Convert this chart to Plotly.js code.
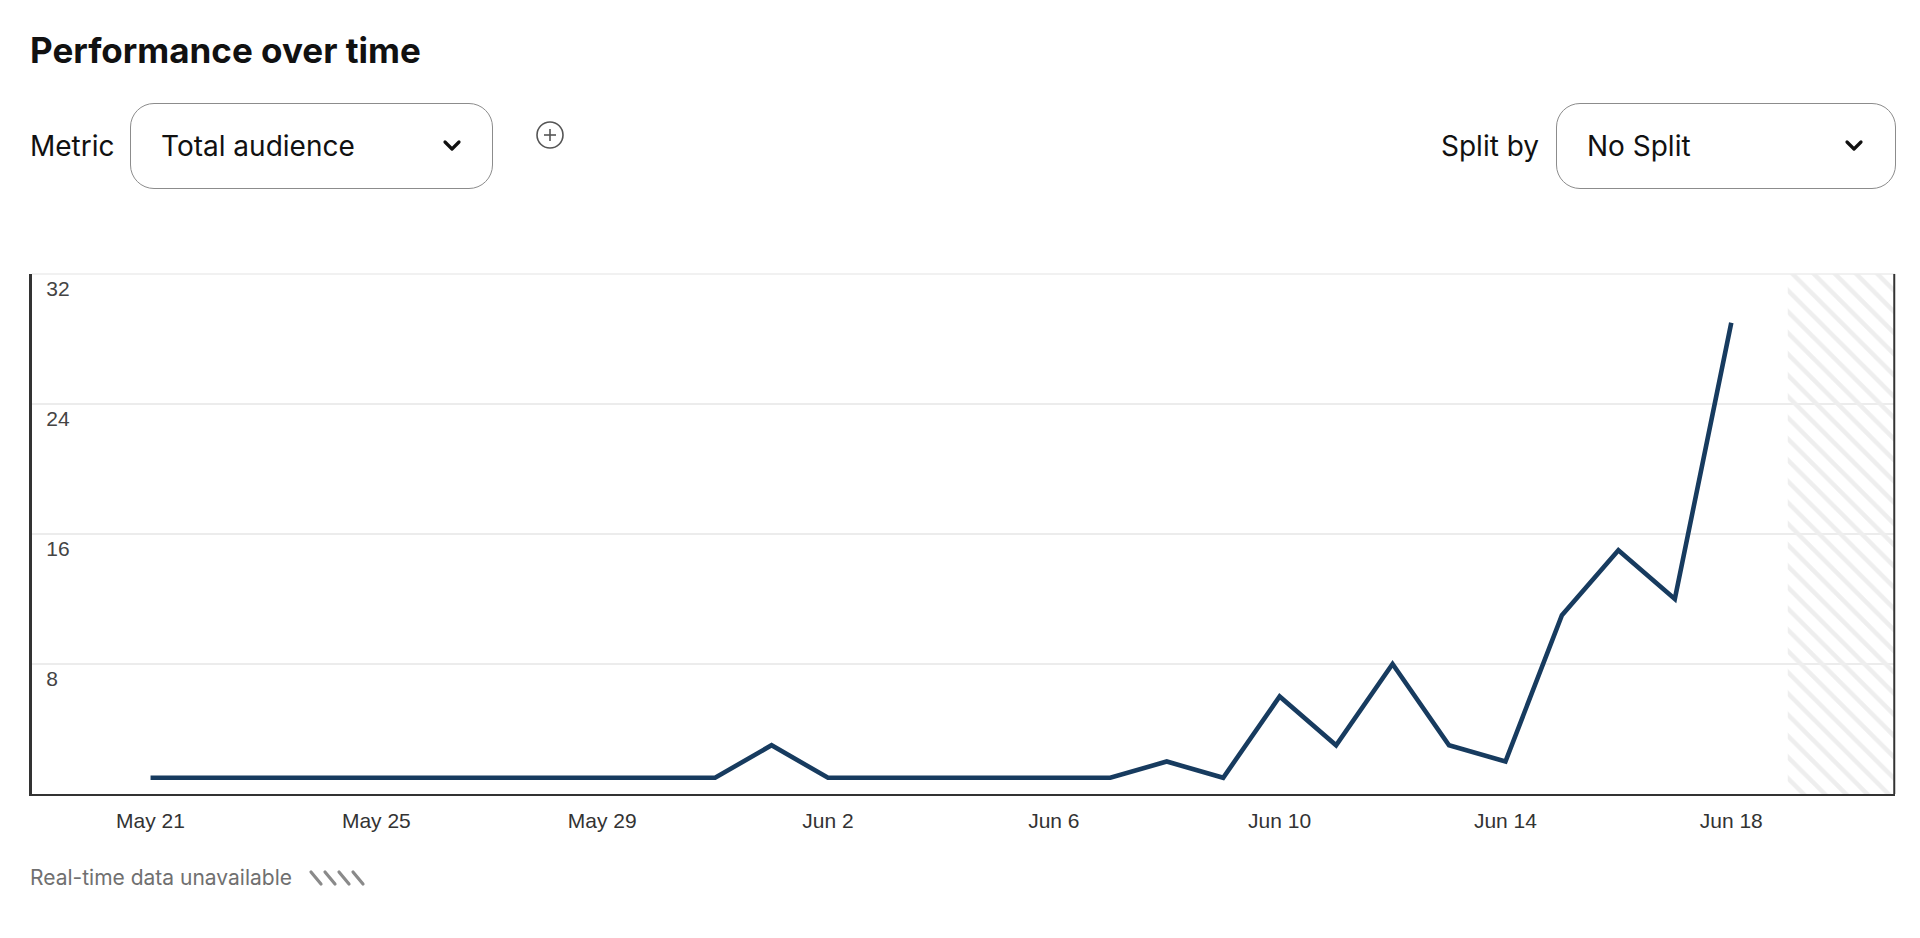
<!DOCTYPE html>
<html>
<head>
<meta charset="utf-8">
<script src="https://cdn.plot.ly/plotly-3.0.1.min.js"></script>
<style>
  body { margin: 0; background: #fff; font-family: Inter, "Noto Sans", sans-serif; color: #111; }
  #wrap { position: relative; width: 1920px; height: 938px; overflow: hidden; }
  #graph { position: absolute; left: 0; top: 0; width: 1920px; height: 938px; }
  .abs { position: absolute; white-space: nowrap; }
  .title { left: 30px; top: 29px; font-size: 35px; font-weight: 700; letter-spacing: 0px; }
  .label { font-size: 28px; line-height: 34px; top: 129px; color: #111; }
  .box { top: 103px; height: 84px; border: 1.6px solid #8c8c8c; border-radius: 24px; background: #fff; }
  .box span { position: absolute; left: 30px; top: 25px; font-size: 28px; line-height: 34px; }
  .box svg { position: absolute; top: 35px; }
  .foot { left: 30px; top: 865px; font-size: 21px; color: #707070; }
</style>
</head>
<body>
<div id="wrap">
  <div id="graph"></div>
  <div class="abs title">Performance over time</div>

  <div class="abs label" style="left:30px">Metric</div>
  <div class="abs box" style="left:130px; width:361px">
    <span>Total audience</span>
    <svg style="left:311px" width="20" height="14" viewBox="0 0 20 14"><polyline points="3,3 10,10 17,3" fill="none" stroke="#111" stroke-width="3.2" stroke-linecap="round" stroke-linejoin="round"/></svg>
  </div>
  <svg class="abs" style="left:535px; top:120px" width="30" height="30" viewBox="0 0 30 30">
    <circle cx="15" cy="15" r="13" fill="none" stroke="#555" stroke-width="1.6"/>
    <line x1="15" y1="9" x2="15" y2="21" stroke="#555" stroke-width="1.6"/>
    <line x1="9" y1="15" x2="21" y2="15" stroke="#555" stroke-width="1.6"/>
  </svg>

  <div class="abs label" style="left:1441px">Split by</div>
  <div class="abs box" style="left:1556px; width:338px">
    <span>No Split</span>
    <svg style="left:287px" width="20" height="14" viewBox="0 0 20 14"><polyline points="3,3 10,10 17,3" fill="none" stroke="#111" stroke-width="3.2" stroke-linecap="round" stroke-linejoin="round"/></svg>
  </div>

  <div class="abs foot">Real-time data unavailable
    <svg style="vertical-align:-2px; margin-left:10px" width="60" height="18" viewBox="0 0 60 18">
      <g stroke="#8a8a8a" stroke-width="3.2" stroke-linecap="round">
        <line x1="3" y1="3" x2="13" y2="15"/>
        <line x1="17" y1="3" x2="27" y2="15"/>
        <line x1="31" y1="3" x2="41" y2="15"/>
        <line x1="45" y1="3" x2="55" y2="15"/>
      </g>
    </svg>
  </div>
</div>

<script>
// daily total audience, May 21 - Jun 18
let days = [
    '2024-05-21', '2024-05-22', '2024-05-23', '2024-05-24', '2024-05-25',
    '2024-05-26', '2024-05-27', '2024-05-28', '2024-05-29', '2024-05-30',
    '2024-05-31', '2024-06-01', '2024-06-02', '2024-06-03', '2024-06-04',
    '2024-06-05', '2024-06-06', '2024-06-07', '2024-06-08', '2024-06-09',
    '2024-06-10', '2024-06-11', '2024-06-12', '2024-06-13', '2024-06-14',
    '2024-06-15', '2024-06-16', '2024-06-17', '2024-06-18'
]
let audience = [
    1, 1, 1, 1, 1,
    1, 1, 1, 1, 1,
    1, 3, 1, 1, 1,
    1, 1, 1, 2, 1,
    6, 3, 8, 3, 2,
    11, 15, 12, 29
]
let yTicks = [8, 16, 24, 32]
let xRange = ['2024-05-18 21:36', '2024-06-20 21:36']
let unavailableFrom = '2024-06-19'

main();

function main() {
    let yMax = yTicks[yTicks.length - 1]
    let hatchWidth = Date.parse('2024-06-20T21:36:00') - Date.parse(unavailableFrom + 'T00:00:00')

    // striped block for the days with no real-time data
    let hatch = {
        x: [unavailableFrom],
        y: [yMax],
        type: 'bar',
        offset: 0,
        width: [hatchWidth],
        marker: {
            color: 'rgba(0,0,0,0)',
            line: {width: 0},
            pattern: {shape: '\\', fgcolor: '#eeeeee', bgcolor: 'rgba(0,0,0,0)', size: 15, solidity: 0.3}
        },
        hoverinfo: 'skip',
        showlegend: false
    }

    let line = {
        x: days,
        y: audience,
        type: 'scatter',
        mode: 'lines',
        line: {color: '#173b5f', width: 4.6},
        showlegend: false
    }

    var layout = {
        width: 1920,
        height: 938,
        margin: {l: 32, r: 25, t: 274, b: 144},
        paper_bgcolor: 'rgba(0,0,0,0)',
        plot_bgcolor: '#ffffff',
        font: {family: 'Liberation Sans, Arial, sans-serif', size: 21, color: '#333'},
        xaxis: {
            type: 'date',
            range: xRange,
            tick0: days[0],
            dtick: 4 * 86400000,
            tickformat: '%b %-d',
            ticks: '',
            ticklabelstandoff: 7,
            showgrid: false,
            zeroline: false,
            showline: true,
            linecolor: '#333',
            linewidth: 2
        },
        yaxis: {
            range: [0, yMax],
            tickvals: yTicks,
            ticklabelposition: 'inside bottom',
            ticklabelstandoff: 14,
            ticks: '',
            showgrid: true,
            gridcolor: '#ececec',
            gridwidth: 1.5,
            zeroline: false,
            showline: true,
            linecolor: '#333',
            linewidth: 3
        },
        shapes: [
            {
                type: 'line', xref: 'paper', yref: 'paper',
                x0: 0, x1: 1, y0: 1, y1: 1,
                line: {color: '#ececec', width: 1.5}
            },
            {
                type: 'line', xref: 'paper', yref: 'paper',
                x0: 0.9996, x1: 0.9996, y0: 0, y1: 1,
                line: {color: '#333', width: 2}
            }
        ],
        showlegend: false
    };
    Plotly.newPlot('graph', [hatch, line], layout, {displayModeBar: false, staticPlot: true});
}
</script>
</body>
</html>
